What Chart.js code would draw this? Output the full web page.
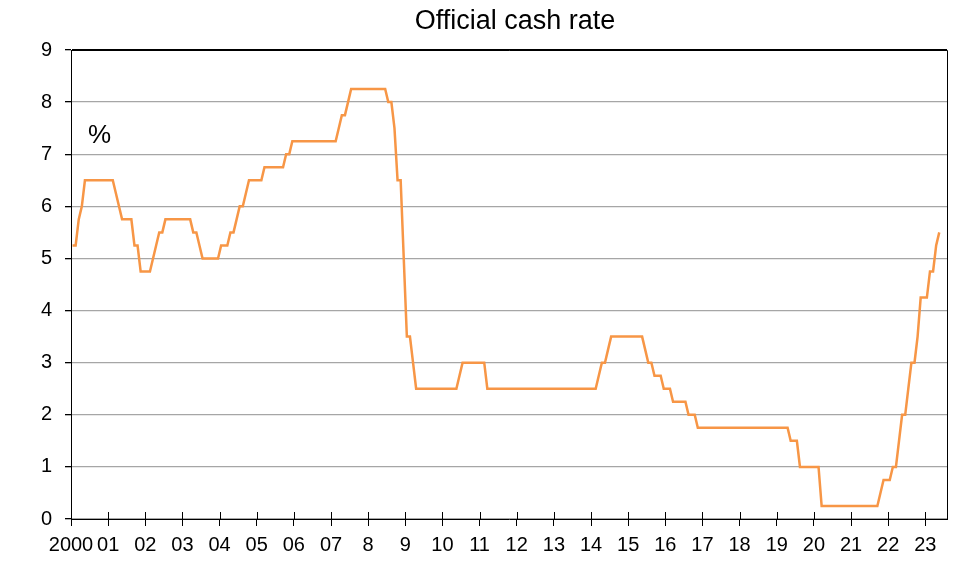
<!DOCTYPE html>
<html>
<head>
<meta charset="utf-8">
<title>Official cash rate</title>
<script src="https://cdn.jsdelivr.net/npm/chart.js@4.4.1/dist/chart.umd.min.js"></script>
<style>
  html, body { margin: 0; padding: 0; background: #fff; }
  canvas { display: block; }
</style>
</head>
<body>
<canvas id="grafico" width="966" height="588"></canvas>
<script>
// dados mensais (fim do mês), jan 2000 - mai 2023
const startYear = 2000;
const endYear = 2023 + 7 / 12; // eixo vai até jul/2023

const ocr = [
  5.25, 5.25, 5.75, 6.00, 6.50, 6.50, 6.50, 6.50, 6.50, 6.50, 6.50, 6.50, // 2000
  6.50, 6.50, 6.25, 6.00, 5.75, 5.75, 5.75, 5.75, 5.25, 5.25, 4.75, 4.75, // 2001
  4.75, 4.75, 5.00, 5.25, 5.50, 5.50, 5.75, 5.75, 5.75, 5.75, 5.75, 5.75, // 2002
  5.75, 5.75, 5.75, 5.50, 5.50, 5.25, 5.00, 5.00, 5.00, 5.00, 5.00, 5.00, // 2003
  5.25, 5.25, 5.25, 5.50, 5.50, 5.75, 6.00, 6.00, 6.25, 6.50, 6.50, 6.50, // 2004
  6.50, 6.50, 6.75, 6.75, 6.75, 6.75, 6.75, 6.75, 6.75, 7.00, 7.00, 7.25, // 2005
  7.25, 7.25, 7.25, 7.25, 7.25, 7.25, 7.25, 7.25, 7.25, 7.25, 7.25, 7.25, // 2006
  7.25, 7.25, 7.50, 7.75, 7.75, 8.00, 8.25, 8.25, 8.25, 8.25, 8.25, 8.25, // 2007
  8.25, 8.25, 8.25, 8.25, 8.25, 8.25, 8.00, 8.00, 7.50, 6.50, 6.50, 5.00, // 2008
  3.50, 3.50, 3.00, 2.50, 2.50, 2.50, 2.50, 2.50, 2.50, 2.50, 2.50, 2.50, // 2009
  2.50, 2.50, 2.50, 2.50, 2.50, 2.75, 3.00, 3.00, 3.00, 3.00, 3.00, 3.00, // 2010
  3.00, 3.00, 2.50, 2.50, 2.50, 2.50, 2.50, 2.50, 2.50, 2.50, 2.50, 2.50, // 2011
  2.50, 2.50, 2.50, 2.50, 2.50, 2.50, 2.50, 2.50, 2.50, 2.50, 2.50, 2.50, // 2012
  2.50, 2.50, 2.50, 2.50, 2.50, 2.50, 2.50, 2.50, 2.50, 2.50, 2.50, 2.50, // 2013
  2.50, 2.50, 2.75, 3.00, 3.00, 3.25, 3.50, 3.50, 3.50, 3.50, 3.50, 3.50, // 2014
  3.50, 3.50, 3.50, 3.50, 3.50, 3.25, 3.00, 3.00, 2.75, 2.75, 2.75, 2.50, // 2015
  2.50, 2.50, 2.25, 2.25, 2.25, 2.25, 2.25, 2.00, 2.00, 2.00, 1.75, 1.75, // 2016
  1.75, 1.75, 1.75, 1.75, 1.75, 1.75, 1.75, 1.75, 1.75, 1.75, 1.75, 1.75, // 2017
  1.75, 1.75, 1.75, 1.75, 1.75, 1.75, 1.75, 1.75, 1.75, 1.75, 1.75, 1.75, // 2018
  1.75, 1.75, 1.75, 1.75, 1.50, 1.50, 1.50, 1.00, 1.00, 1.00, 1.00, 1.00, // 2019
  1.00, 1.00, 0.25, 0.25, 0.25, 0.25, 0.25, 0.25, 0.25, 0.25, 0.25, 0.25, // 2020
  0.25, 0.25, 0.25, 0.25, 0.25, 0.25, 0.25, 0.25, 0.25, 0.50, 0.75, 0.75, // 2021
  0.75, 1.00, 1.00, 1.50, 2.00, 2.00, 2.50, 3.00, 3.00, 3.50, 4.25, 4.25, // 2022
  4.25, 4.75, 4.75, 5.25, 5.50                                            // 2023
];

const tickLabels = ['2000', '01', '02', '03', '04', '05', '06', '07', '8', '9', '10', '11',
  '12', '13', '14', '15', '16', '17', '18', '19', '20', '21', '22', '23'];

const fonte = '"Liberation Sans", Arial, sans-serif';

// cada mês fica no meio do seu intervalo
const pontos = ocr.map((v, i) => ({ x: startYear + (i + 0.5) / 12, y: v }));

// título, moldura, marcas do eixo x por dentro e o "%"
const moldura = {
    id: 'moldura',
    afterDatasetsDraw(chart) {
        const { ctx, chartArea: a, scales: { x } } = chart;
        ctx.save();
        ctx.strokeStyle = '#000';
        ctx.lineWidth = 1;
        ctx.beginPath();
        ctx.moveTo(a.left, a.top + 0.5);
        ctx.lineTo(a.right + 0.5, a.top + 0.5);
        ctx.lineTo(a.right + 0.5, a.bottom);
        x.ticks.forEach(t => {
            const px = Math.round(x.getPixelForValue(t.value)) + 0.5;
            ctx.moveTo(px, a.bottom - 7);
            ctx.lineTo(px, a.bottom);
        });
        ctx.stroke();

        ctx.fillStyle = '#000';
        ctx.font = '27px ' + fonte;
        ctx.textAlign = 'center';
        ctx.textBaseline = 'alphabetic';
        ctx.fillText('Official cash rate', 515, 29);

        ctx.font = '26px ' + fonte;
        ctx.textAlign = 'left';
        ctx.fillText('%', a.left + 17, 143);
        ctx.restore();
    }
};

const ctx = document.getElementById('grafico').getContext('2d');

new Chart(ctx, {
    type: 'line',
    data: {
        datasets: [{
            data: pontos,
            borderColor: '#f79646',
            borderWidth: 2.5,
            pointRadius: 0,
            tension: 0,
            fill: false
        }]
    },
    options: {
        responsive: false,
        animation: false,
        devicePixelRatio: 1,
        layout: { padding: { left: 0, right: 19, top: 50, bottom: 0 } },
        plugins: {
            legend: { display: false },
            tooltip: { enabled: false }
        },
        scales: {
            x: {
                type: 'linear',
                min: startYear,
                max: endYear,
                afterFit: s => { s.height = 69; },
                border: { color: '#000', width: 1 },
                grid: { drawOnChartArea: false, tickLength: 7, tickColor: '#000' },
                ticks: {
                    stepSize: 1,
                    includeBounds: false,
                    autoSkip: false,
                    maxRotation: 0,
                    padding: 7,
                    color: '#000',
                    font: { family: fonte, size: 20 },
                    callback: v => tickLabels[Math.round(v - startYear)]
                }
            },
            y: {
                min: 0,
                max: 9,
                afterFit: s => { s.width = 71; },
                border: { color: '#000', width: 1 },
                grid: {
                    color: c => (c.tick && c.tick.value === 9 ? '#000' : '#a6a6a6'),
                    lineWidth: 1.3,
                    tickLength: 6,
                    tickColor: '#000'
                },
                ticks: {
                    stepSize: 1,
                    padding: 13,
                    color: '#000',
                    font: { family: fonte, size: 20 }
                }
            }
        }
    },
    plugins: [moldura]
});
</script>
</body>
</html>
